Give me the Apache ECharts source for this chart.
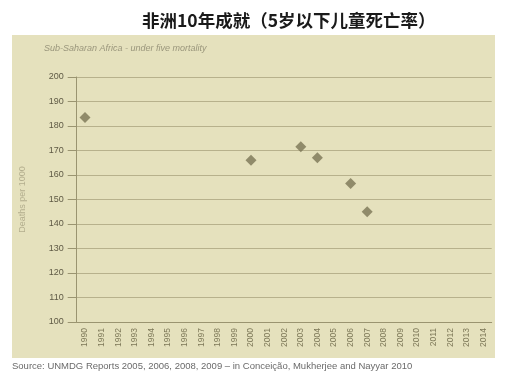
<!DOCTYPE html>
<html>
<head>
<meta charset="utf-8">
<script src="https://cdn.jsdelivr.net/npm/echarts@6/dist/echarts.min.js"></script>
<style>
  html, body { margin: 0; padding: 0; background: #ffffff; }
  #chart { width: 506px; height: 378px; }
</style>
</head>
<body>
<div id="chart"></div>
<script>
// Years shown along the bottom axis
const years = [];
for (let y = 1990; y <= 2014; y++) years.push(String(y));

// Under-five mortality, deaths per 1000 live births
const obsYears = ['1990', '2000', '2003', '2004', '2006', '2007'];
const obsValues = [183.5, 166, 171.5, 167, 156.5, 145];

// Y-axis range
const yMin = 100, yMax = 200, yStep = 10;

const points = obsYears.map((yr, i) => [yr, obsValues[i]]);

const chart = echarts.init(document.getElementById('chart'), null, { renderer: 'canvas' });
chart.setOption({
  animation: false,
  backgroundColor: '#ffffff',
  title: {
    text: '非洲10年成就（5岁以下儿童死亡率）',
    left: 137,
    top: 7,
    textStyle: {
      fontFamily: 'Noto Sans CJK SC',
      fontSize: 17.5,
      fontWeight: 'bold',
      color: '#1a1a1a'
    }
  },
  graphic: [
    {
      type: 'rect',
      z: -10,
      shape: { x: 12, y: 35, width: 483, height: 323 },
      style: { fill: '#e5e1bd' }
    },
    {
      type: 'text',
      left: 44,
      top: 44,
      style: {
        text: 'Sub-Saharan Africa - under five mortality',
        font: 'italic 9px "Liberation Sans"',
        fill: '#9a967c'
      }
    },
    {
      type: 'text',
      left: 12,
      top: 361,
      style: {
        text: 'Source: UNMDG Reports 2005, 2006, 2008, 2009 \u2013 in Concei\u00e7\u00e3o, Mukherjee and Nayyar 2010',
        font: '9.5px "Liberation Sans"',
        fill: '#6a6a6a'
      }
    }
  ],
  grid: { left: 76.7, right: 14.3, top: 77, bottom: 56, containLabel: false },
  xAxis: {
    type: 'category',
    data: years,
    boundaryGap: true,
    axisLine: { show: true, lineStyle: { color: '#9a9470', width: 1 } },
    axisTick: { show: false },
    axisLabel: {
      rotate: 90,
      interval: 0,
      fontSize: 8.5,
      fontFamily: 'Liberation Sans',
      color: '#7d7858',
      margin: 6
    },
    splitLine: { show: false }
  },
  yAxis: {
    type: 'value',
    min: yMin,
    max: yMax,
    interval: yStep,
    name: 'Deaths per 1000',
    nameLocation: 'middle',
    nameGap: 50,
    nameTextStyle: { fontSize: 9, color: '#b3ae8e', fontFamily: 'Liberation Sans' },
    axisLine: { show: true, lineStyle: { color: '#9a9470', width: 1 } },
    axisTick: { show: true, length: 9, lineStyle: { color: '#9a9470' } },
    axisLabel: {
      fontSize: 9,
      fontFamily: 'Liberation Sans',
      color: '#5f5a45',
      margin: 13
    },
    splitLine: { show: true, lineStyle: { color: '#b7b18c', width: 1 } }
  },
  series: [{
    type: 'scatter',
    data: points,
    symbol: 'diamond',
    symbolSize: 11,
    itemStyle: { color: '#7b7555' }
  }]
});
</script>
</body>
</html>
